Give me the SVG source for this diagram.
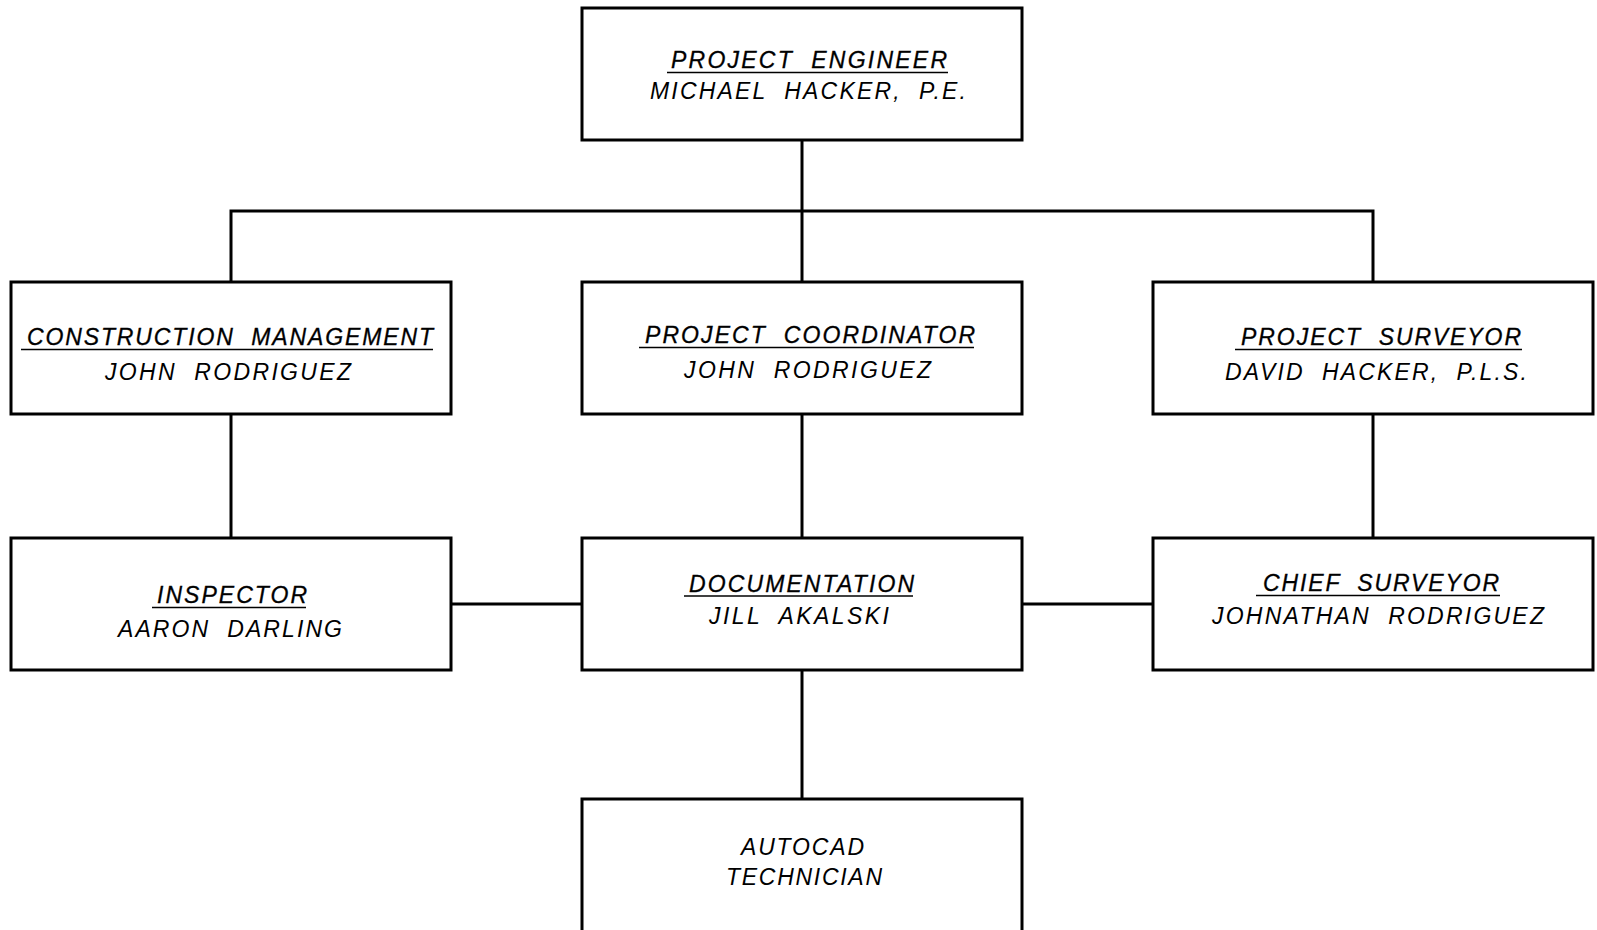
<svg xmlns="http://www.w3.org/2000/svg" width="1597" height="930" viewBox="0 0 1597 930">
<style>
.box{fill:#fff;stroke:#000;stroke-width:3}
.con{fill:none;stroke:#000;stroke-width:3;stroke-linejoin:miter}
.ul{stroke:#000;stroke-width:1.6}
text{font-family:"Liberation Sans",Arial,sans-serif;font-style:italic;font-size:23px;fill:#000;white-space:pre}
.t{stroke:#000;stroke-width:0.3}
.n{font-weight:normal}
</style>
<rect width="1597" height="930" fill="#fff"/>
<g id="connectors">
<line class="con" x1="802" y1="140" x2="802" y2="282"/>
<path class="con" d="M231,282 V211 H1373 V282"/>
<line class="con" x1="231" y1="414" x2="231" y2="538"/>
<line class="con" x1="802" y1="414" x2="802" y2="538"/>
<line class="con" x1="1373" y1="414" x2="1373" y2="538"/>
<line class="con" x1="451" y1="604" x2="582" y2="604"/>
<line class="con" x1="1022" y1="604" x2="1153" y2="604"/>
<line class="con" x1="802" y1="670" x2="802" y2="799"/>
</g>
<g id="project-engineer">
<rect class="box" x="582" y="8" width="440" height="132"/>
<text class="t" x="671" y="68" textLength="276" lengthAdjust="spacing">PROJECT  ENGINEER</text>
<line class="ul" x1="667" y1="72.5" x2="948" y2="72.5"/>
<text class="n" x="650" y="99" textLength="316" lengthAdjust="spacing">MICHAEL  HACKER,  P.E.</text>
</g>
<g id="construction-management">
<rect class="box" x="11" y="282" width="440" height="132"/>
<text class="t" x="27" y="345" textLength="406" lengthAdjust="spacing">CONSTRUCTION  MANAGEMENT</text>
<line class="ul" x1="21" y1="349.5" x2="433" y2="349.5"/>
<text class="n" x="105" y="380" textLength="246" lengthAdjust="spacing">JOHN  RODRIGUEZ</text>
</g>
<g id="project-coordinator">
<rect class="box" x="582" y="282" width="440" height="132"/>
<text class="t" x="645" y="343" textLength="330" lengthAdjust="spacing">PROJECT  COORDINATOR</text>
<line class="ul" x1="639" y1="347.5" x2="974" y2="347.5"/>
<text class="n" x="684" y="378" textLength="247" lengthAdjust="spacing">JOHN  RODRIGUEZ</text>
</g>
<g id="project-surveyor">
<rect class="box" x="1153" y="282" width="440" height="132"/>
<text class="t" x="1241" y="345" textLength="280" lengthAdjust="spacing">PROJECT  SURVEYOR</text>
<line class="ul" x1="1235" y1="349.5" x2="1522" y2="349.5"/>
<text class="n" x="1225" y="380" textLength="302" lengthAdjust="spacing">DAVID  HACKER,  P.L.S.</text>
</g>
<g id="inspector">
<rect class="box" x="11" y="538" width="440" height="132"/>
<text class="t" x="157" y="603" textLength="150" lengthAdjust="spacing">INSPECTOR</text>
<line class="ul" x1="152" y1="607.5" x2="306" y2="607.5"/>
<text class="n" x="118" y="637" textLength="224" lengthAdjust="spacing">AARON  DARLING</text>
</g>
<g id="documentation">
<rect class="box" x="582" y="538" width="440" height="132"/>
<text class="t" x="689" y="592" textLength="225" lengthAdjust="spacing">DOCUMENTATION</text>
<line class="ul" x1="684" y1="596" x2="913" y2="596"/>
<text class="n" x="709" y="624" textLength="180" lengthAdjust="spacing">JILL  AKALSKI</text>
</g>
<g id="chief-surveyor">
<rect class="box" x="1153" y="538" width="440" height="132"/>
<text class="t" x="1263" y="591" textLength="236" lengthAdjust="spacing">CHIEF  SURVEYOR</text>
<line class="ul" x1="1256" y1="595.5" x2="1500" y2="595.5"/>
<text class="n" x="1212" y="624" textLength="332" lengthAdjust="spacing">JOHNATHAN  RODRIGUEZ</text>
</g>
<g id="autocad-technician">
<rect class="box" x="582" y="799" width="440" height="160"/>
<text class="n" x="741" y="855" textLength="123" lengthAdjust="spacing">AUTOCAD</text>
<text class="n" x="726" y="885" textLength="156" lengthAdjust="spacing">TECHNICIAN</text>
</g>
</svg>
